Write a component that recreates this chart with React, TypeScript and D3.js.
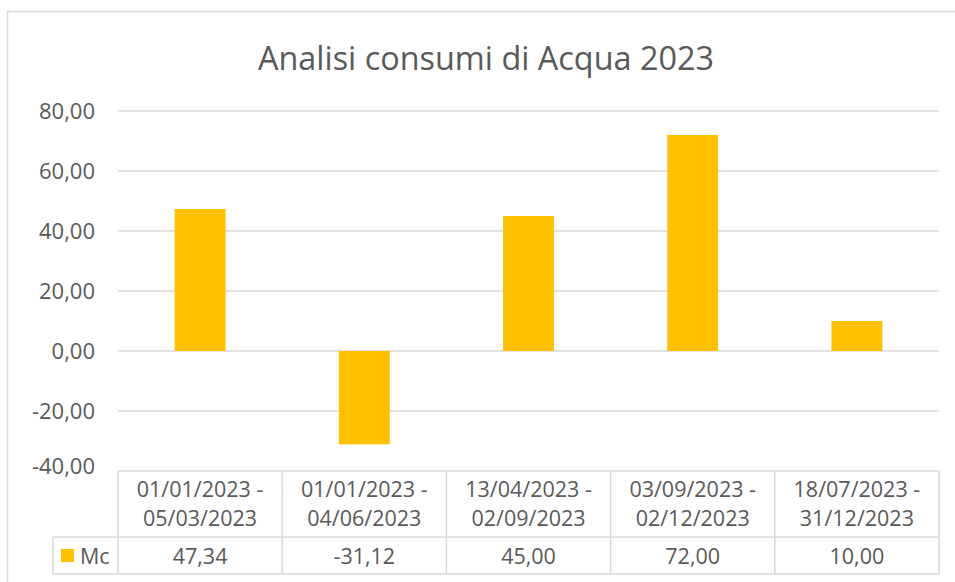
import React, { useRef, useEffect } from 'react';
import * as d3 from 'd3';

const title = 'Analisi consumi di Acqua 2023';
const seriesName = 'Mc';
const periodStart = ['01/01/2023', '01/01/2023', '13/04/2023', '03/09/2023', '18/07/2023'];
const periodEnd = ['05/03/2023', '04/06/2023', '02/09/2023', '02/12/2023', '31/12/2023'];
const values = [47.34, -31.12, 45.0, 72.0, 10.0];
const yTicks = [-40, -20, 0, 20, 40, 60, 80];

// Italian style numbers with a plain hyphen for negatives
const fmt = (v: number) => (v < 0 ? '-' : '') + Math.abs(v).toFixed(2).replace('.', ',');

const App = () => {
    const svgRef = useRef<SVGSVGElement>(null);

    useEffect(() => {
        const svg = d3.select(svgRef.current);
        svg.selectAll('*').remove();

        const W = 955;
        const H = 582;
        const font = "'Open Sans', sans-serif";
        const textColor = '#595959';
        const lineColor = '#d9d9d9';
        const labelSize = 21.5;

        const plot = { left: 118, right: 939, top: 111, bottom: 471 };
        const cats = periodStart.map((s, i) => `${s} - ${periodEnd[i]}`);

        const x = d3.scaleBand()
            .domain(cats)
            .range([plot.left, plot.right])
            .paddingInner(0.69)
            .paddingOuter(0.345);

        const y = d3.scaleLinear()
            .domain([-40, 80])
            .range([plot.bottom, plot.top]);

        // chart area border (cropped on right and bottom)
        svg.append('rect')
            .attr('x', 7.5)
            .attr('y', 11.5)
            .attr('width', W + 20)
            .attr('height', H + 20)
            .attr('fill', '#fff')
            .attr('stroke', lineColor)
            .attr('stroke-width', 1.5);

        // title
        svg.append('text')
            .attr('x', 486)
            .attr('y', 70)
            .attr('text-anchor', 'middle')
            .attr('font-family', font)
            .attr('font-size', 32.4)
            .attr('fill', textColor)
            .text(title);

        // gridlines
        svg.append('g')
            .selectAll('line')
            .data(yTicks.filter(t => t !== -40))
            .join('line')
            .attr('x1', plot.left)
            .attr('x2', plot.right)
            .attr('y1', d => y(d))
            .attr('y2', d => y(d))
            .attr('stroke', lineColor)
            .attr('stroke-width', 1.5);

        // y tick labels
        svg.append('g')
            .selectAll('text')
            .data(yTicks)
            .join('text')
            .attr('x', 95)
            .attr('y', d => y(d))
            .attr('dy', d => (d === -40 ? '0.15em' : '0.35em'))
            .attr('text-anchor', 'end')
            .attr('font-family', font)
            .attr('font-size', 22)
            .attr('fill', textColor)
            .text(d => fmt(d));

        // bars
        svg.append('g')
            .selectAll('rect')
            .data(values)
            .join('rect')
            .attr('x', (d, i) => x(cats[i]) as number)
            .attr('width', x.bandwidth())
            .attr('y', d => y(Math.max(0, d)))
            .attr('height', d => Math.abs(y(d) - y(0)))
            .attr('fill', '#FFC000');

        // data table
        const rowTop = plot.bottom;
        const rowMid = 537;
        const rowBot = 574;
        const legendLeft = 53;
        const table = svg.append('g')
            .attr('stroke', lineColor)
            .attr('stroke-width', 1.5)
            .attr('fill', 'none');

        table.append('line').attr('x1', plot.left).attr('x2', plot.right).attr('y1', rowTop).attr('y2', rowTop);
        table.append('line').attr('x1', legendLeft).attr('x2', plot.right).attr('y1', rowMid).attr('y2', rowMid);
        table.append('line').attr('x1', legendLeft).attr('x2', plot.right).attr('y1', rowBot).attr('y2', rowBot);
        table.append('line').attr('x1', legendLeft).attr('x2', legendLeft).attr('y1', rowMid).attr('y2', rowBot);

        const edges = [plot.left, ...cats.map(c => (x(c) as number) + x.bandwidth() / 2 + x.step() / 2)];
        table.selectAll('line.sep')
            .data(edges)
            .join('line')
            .attr('class', 'sep')
            .attr('x1', d => d)
            .attr('x2', d => d)
            .attr('y1', rowTop)
            .attr('y2', rowBot);

        const cx = (i: number) => (x(cats[i]) as number) + x.bandwidth() / 2;

        const header = svg.append('g')
            .attr('font-family', font)
            .attr('font-size', labelSize)
            .attr('fill', textColor)
            .attr('text-anchor', 'middle');

        header.selectAll('text.l1')
            .data(periodStart)
            .join('text')
            .attr('class', 'l1')
            .attr('x', (d, i) => cx(i))
            .attr('y', 497)
            .text(d => `${d} -`);

        header.selectAll('text.l2')
            .data(periodEnd)
            .join('text')
            .attr('class', 'l2')
            .attr('x', (d, i) => cx(i))
            .attr('y', 526)
            .text(d => d);

        header.selectAll('text.v')
            .data(values)
            .join('text')
            .attr('class', 'v')
            .attr('x', (d, i) => cx(i))
            .attr('y', 564)
            .text(d => fmt(d));

        // legend key
        svg.append('rect')
            .attr('x', 61)
            .attr('y', 549)
            .attr('width', 13)
            .attr('height', 13)
            .attr('fill', '#FFC000');

        svg.append('text')
            .attr('x', 80)
            .attr('y', 564)
            .attr('font-family', font)
            .attr('font-size', labelSize)
            .attr('fill', textColor)
            .text(seriesName);
    }, []);

    return (
        <svg
            ref={svgRef}
            width={955}
            height={582}
            style={{ position: 'absolute', left: 0, top: 0 }}
        ></svg>
    );
};

export default App;
